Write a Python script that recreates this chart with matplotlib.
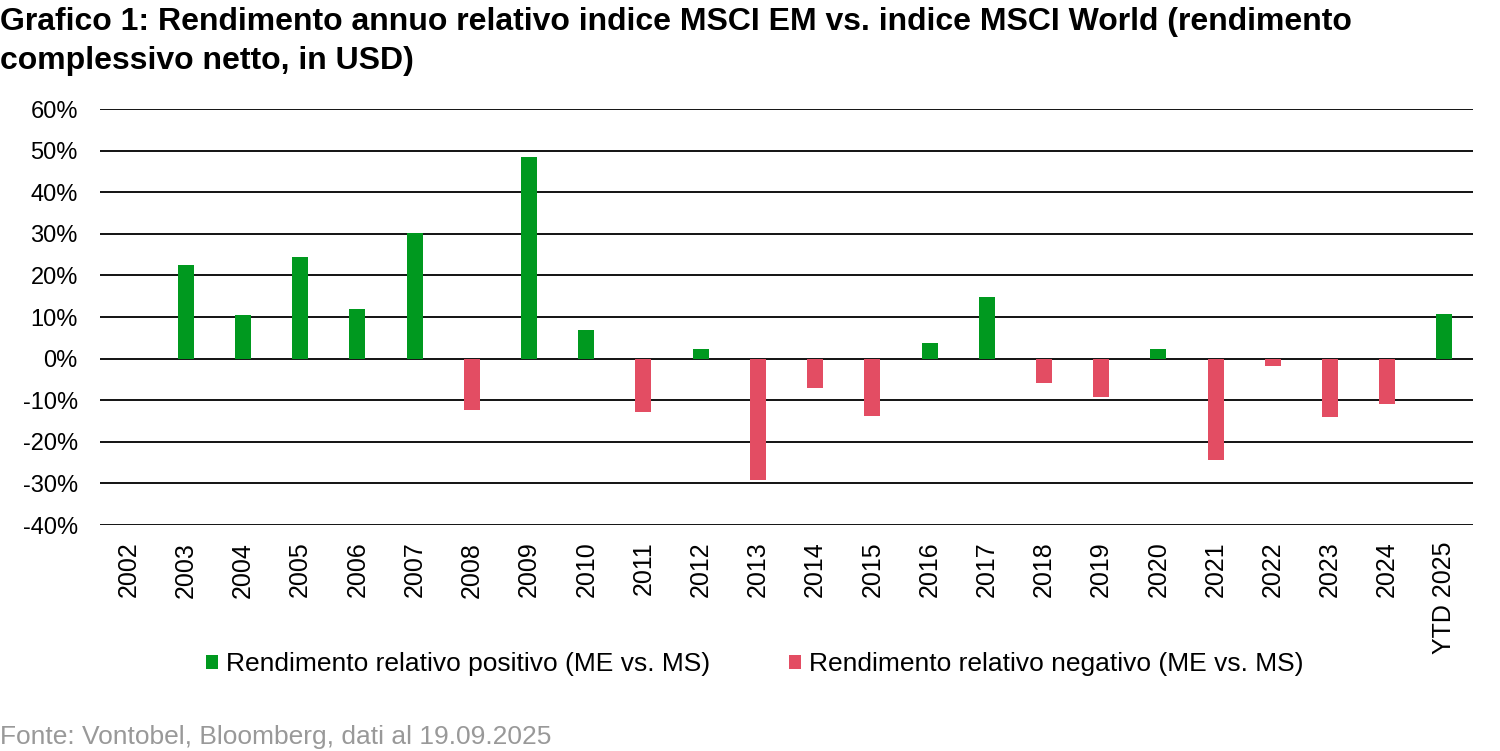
import numpy as np
import matplotlib.pyplot as plt
from matplotlib.ticker import FuncFormatter

plt.rcParams['font.family'] = ['Liberation Sans', 'DejaVu Sans']

years = ['2002', '2003', '2004', '2005', '2006', '2007', '2008', '2009', '2010',
         '2011', '2012', '2013', '2014', '2015', '2016', '2017', '2018', '2019',
         '2020', '2021', '2022', '2023', '2024', 'YTD 2025']
# relative return EM vs World, in %  (2002 has no bar)
rel_return = [np.nan, 22.5, 10.6, 24.4, 12.0, 30.2, -12.4, 48.4, 6.9,
              -12.8, 2.3, -29.2, -7.0, -13.8, 3.7, 14.8, -5.8, -9.2,
              2.3, -24.4, -1.8, -14.0, -11.0, 10.7]

green = '#00991F'
red = '#E34D63'

rel = np.array(rel_return, dtype=float)
pos = np.where(rel > 0, rel, np.nan)
neg = np.where(rel < 0, rel, np.nan)
x = np.arange(len(years))

fig = plt.figure(figsize=(15, 7.51), dpi=100)
ax = fig.add_axes([100 / 1500, 1 - 525 / 751, 1373 / 1500, 416 / 751])

ax.bar(x, pos, width=0.28, color=green, label='Rendimento relativo positivo (ME vs. MS)', zorder=3)
ax.bar(x, neg, width=0.28, color=red, label='Rendimento relativo negativo (ME vs. MS)', zorder=3)

ax.set_ylim(-40, 60)
ax.set_yticks(range(-40, 61, 10))
ax.yaxis.set_major_formatter(FuncFormatter(lambda v, p: f'{v:.0f}%'))
ax.set_xlim(-0.5, len(years) - 0.5)
ax.set_xticks(x)
ax.set_xticklabels(years, rotation=90)
ax.grid(axis='y', color='black', linewidth=1.3, zorder=1)
ax.tick_params(length=0, labelsize=17)
ax.tick_params(axis='y', pad=16)
ax.tick_params(axis='x', pad=12, labelsize=18)
for s in ax.spines.values():
    s.set_visible(False)

fig.text(0.0, 1 - 7 / 751, 'Grafico 1: Rendimento annuo relativo indice MSCI EM vs. indice MSCI World (rendimento\ncomplessivo netto, in USD)',
         fontsize=23, fontweight='bold', va='top', ha='left', linespacing=1.4)

fig.legend(loc='center', bbox_to_anchor=(0.503, 1 - 664 / 751), ncol=2, frameon=False,
           fontsize=19, handlelength=0.45, handleheight=0.45, handletextpad=0.3, columnspacing=3.0)

fig.text(0.0, 1 - 737 / 751, 'Fonte: Vontobel, Bloomberg, dati al 19.09.2025', fontsize=19,
         color='#999999', va='center', ha='left')

fig.savefig('out.png', dpi=100)
